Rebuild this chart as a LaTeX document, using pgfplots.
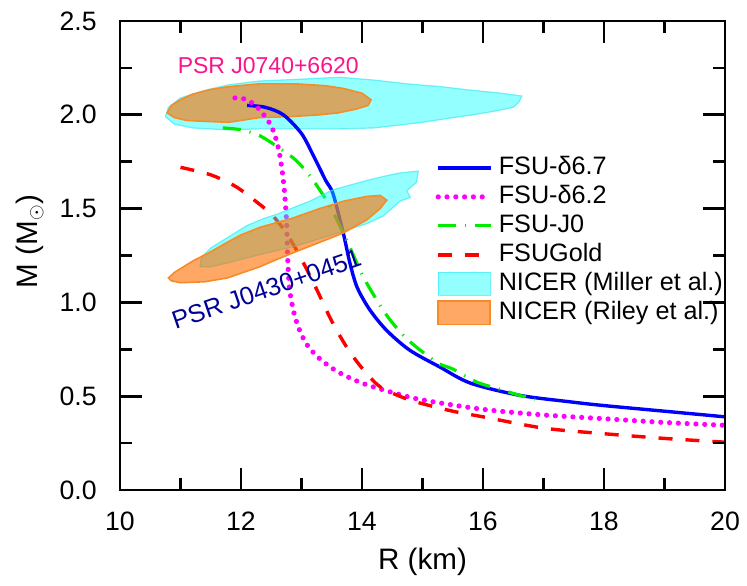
\documentclass[border=0pt]{standalone}
\usepackage{fontspec}
\setmainfont{Liberation Sans}
\usepackage{pgfplots}
\pgfplotsset{compat=1.18}
\definecolor{cyanfill}{RGB}{0,255,255}
\definecolor{cyanedge}{RGB}{60,235,245}
\definecolor{orangefill}{RGB}{255,110,0}
\definecolor{orangeedge}{RGB}{245,140,40}
\definecolor{psrpink}{RGB}{250,20,140}
\definecolor{psrnavy}{RGB}{0,0,150}
\definecolor{lgreen}{RGB}{0,235,0}
\definecolor{lblue}{RGB}{0,0,255}
\definecolor{lmag}{RGB}{255,0,255}
\definecolor{lred}{RGB}{255,0,0}
\definecolor{axblack}{RGB}{2,2,2}
\pgfplotsset{nicerlegend/.style={legend image code/.code={\draw[##1] (0bp,-5.8bp) rectangle (26bp,5.8bp);}}}
\begin{document}
\begin{tikzpicture}
\begin{axis}[
  scale only axis, width=302.5bp, height=234.5bp,
  xmin=10, xmax=20, ymin=0, ymax=2.5,
  xtick={10,12,14,16,18,20}, minor xtick={11,13,15,17,19},
  ytick={0,0.5,1.0,1.5,2.0,2.5}, minor ytick={0.25,0.75,1.25,1.75,2.25},
  tick align=inside, xtick pos=both, ytick pos=both,
  major tick length=11bp, minor tick length=6bp,
  axis line style={axblack, line width=1.4bp},
  tick style={axblack, line width=1.3bp},
  /pgf/number format/assume math mode=true,
  yticklabel style={/pgf/number format/fixed, /pgf/number format/fixed zerofill, /pgf/number format/precision=1, inner sep=0pt, anchor=east, xshift=-11.5bp},
  xticklabel style={inner sep=0pt, anchor=north, yshift=-11bp},
  ticklabel style={font=\fontsize{13.3bp}{16bp}\selectfont},
  xlabel={R (km)}, ylabel={M (M$_\odot$)},
  every axis x label/.style={at={(axis description cs:0.5,-0.1535)}, anchor=center, font=\fontsize{14.8bp}{17bp}\selectfont},
  every axis y label/.style={at={(axis description cs:-0.149,0.53)}, anchor=center, rotate=90, font=\fontsize{14.8bp}{17bp}\selectfont},
  legend style={at={(axis description cs:0.521,0.7186)}, anchor=north west, draw=none, fill=none, inner sep=0pt,
    font=\fontsize{12.6bp}{14bp}\selectfont, cells={anchor=west}, column sep=2bp,
    nodes={inner sep=1bp, text height=9.5bp, text depth=3bp}},
  legend image code/.code={\draw[#1] plot coordinates {(0bp,0bp) (26bp,0bp)};},
]
% upper contours (J0740)
\addplot[forget plot, fill=cyanfill, fill opacity=0.42, draw=cyanedge, draw opacity=0.7, line width=0.6bp] coordinates {
(10.75,1.99) (10.8,2.04) (11.0,2.09) (11.4,2.13) (11.8,2.16) (12.3,2.18) (13.0,2.19) (13.64,2.20) (14.2,2.185) (14.74,2.165) (15.3,2.15) (15.83,2.13) (16.3,2.115) (16.64,2.10) (16.6,2.07) (16.5,2.04) (16.2,2.02) (15.83,2.0) (15.4,1.98) (15.0,1.96) (14.6,1.945) (14.2,1.93) (13.64,1.925) (13.0,1.925) (12.3,1.925) (11.77,1.92) (11.2,1.93) (10.9,1.95)
} -- cycle;
\addplot[forget plot, fill=orangefill, fill opacity=0.6, draw=orangeedge, line width=0.8bp] coordinates {
(10.78,2.01) (10.85,2.05) (11.0,2.08) (11.2,2.11) (11.5,2.135) (11.8,2.15) (12.3,2.165) (12.9,2.165) (13.4,2.155) (13.7,2.14) (14.0,2.115) (14.15,2.08) (14.1,2.05) (13.9,2.03) (13.6,2.01) (13.3,2.0) (12.8,1.99) (12.3,1.985) (11.8,1.96) (11.4,1.965) (11.1,1.97) (10.9,1.985)
} -- cycle;
% curves
\addplot[lblue, line width=1.7bp, smooth] coordinates {
(12.1,2.05) (12.4,2.04) (12.7,2.00) (13.0,1.90) (13.2,1.78) (13.4,1.65) (13.52,1.58) (13.69,1.37) (13.8,1.21) (13.92,1.08) (14.13,0.96) (14.41,0.85) (14.79,0.745) (15.29,0.655) (15.79,0.57) (16.6,0.505) (17.44,0.47) (18.0,0.45) (19.0,0.42) (20.0,0.39)
};
\addlegendentry{FSU-δ6.7}
\addplot[lmag, line width=2.6bp, line cap=round, dash pattern=on 0bp off 4.4bp, smooth] coordinates {
(11.9,2.09) (12.1,2.08) (12.3,2.03) (12.5,1.94) (12.62,1.82) (12.7,1.65) (12.75,1.45) (12.77,1.25) (12.8,1.08) (12.87,0.95) (12.97,0.85) (13.1,0.77) (13.3,0.70) (13.6,0.63) (14.0,0.57) (14.5,0.52) (15.0,0.48) (16.0,0.43) (17.0,0.40) (18.0,0.38) (19.0,0.36) (20.0,0.345)
};
\addlegendentry{FSU-δ6.2}
\addplot[lgreen, line width=1.6bp, dash pattern=on 9bp off 4.5bp on 0.6bp off 4.5bp, smooth] coordinates {
(11.7,1.93) (12.0,1.92) (12.3,1.89) (12.6,1.83) (12.9,1.76) (13.15,1.67) (13.3,1.60) (13.44,1.53) (13.6,1.43) (13.75,1.33) (13.97,1.17) (14.1,1.09) (14.41,0.93) (14.76,0.80) (15.24,0.68) (15.5,0.645) (15.9,0.575) (16.3,0.535) (16.6,0.505) (16.86,0.485)
};
\addlegendentry{FSU-J0}
\addplot[lred, line width=1.7bp, dash pattern=on 7bp off 6.5bp, smooth] coordinates {
(11.0,1.72) (11.5,1.68) (11.9,1.62) (12.2,1.55) (12.5,1.47) (12.75,1.37) (13.0,1.23) (13.25,1.07) (13.5,0.90) (13.75,0.76) (14.0,0.65) (14.3,0.55) (14.7,0.49) (15.0,0.46) (15.5,0.42) (16.0,0.39) (17.0,0.33) (18.0,0.30) (19.0,0.275) (20.0,0.255)
};
\addlegendentry{FSUGold}
% lower contours (J0030)
\addplot[fill=cyanfill, fill opacity=0.42, draw=cyanedge, draw opacity=0.7, line width=0.6bp, nicerlegend] coordinates {
(11.32,1.19) (11.35,1.24) (11.5,1.29) (11.8,1.35) (12.1,1.41) (12.4,1.45) (12.6,1.47) (12.9,1.51) (13.14,1.54) (13.52,1.60) (14.08,1.65) (14.4,1.675) (14.63,1.69) (14.93,1.70) (14.9,1.64) (14.74,1.595) (14.8,1.56) (14.63,1.54) (14.35,1.46) (14.08,1.42) (13.7,1.38) (13.3,1.34) (12.9,1.30) (12.31,1.255) (11.77,1.21) (11.5,1.19)
} -- cycle;
\addlegendentry{NICER (Miller et al.)}
\addplot[fill=orangefill, fill opacity=0.6, draw=orangeedge, line width=0.8bp, nicerlegend] coordinates {
(10.8,1.13) (10.9,1.16) (11.2,1.22) (11.5,1.27) (11.77,1.32) (12.0,1.36) (12.31,1.40) (12.86,1.45) (13.3,1.50) (13.7,1.54) (14.08,1.565) (14.3,1.57) (14.41,1.545) (14.3,1.50) (14.08,1.44) (13.69,1.37) (13.3,1.32) (12.98,1.28) (12.6,1.23) (12.31,1.19) (11.77,1.13) (11.4,1.11) (11.0,1.105) (10.85,1.115)
} -- cycle;
\addlegendentry{NICER (Riley et al.)}
\node[text=psrpink, font=\fontsize{11.5bp}{13bp}\selectfont] at (axis cs:12.45,2.265) {PSR J0740+6620};
\node[text=psrnavy, rotate=19, font=\fontsize{12.6bp}{14bp}\selectfont] at (axis cs:12.42,1.07) {PSR J0430+0451};
\end{axis}
\begin{scope}[draw opacity=1, fill opacity=1, opacity=1]
\foreach \i in {0,...,5} {
  \draw[axblack, line width=1.3bp] ({\i*60.5bp},0) -- ++(0,11bp);
  \draw[axblack, line width=1.3bp] ({\i*60.5bp},234.5bp) -- ++(0,-11bp);
  \draw[axblack, line width=1.3bp] (0,{\i*46.9bp}) -- ++(11bp,0);
  \draw[axblack, line width=1.3bp] (302.5bp,{\i*46.9bp}) -- ++(-11bp,0);
}
\foreach \i in {0,...,4} {
  \draw[axblack, line width=1.3bp] ({30.25bp+\i*60.5bp},0) -- ++(0,6bp);
  \draw[axblack, line width=1.3bp] ({30.25bp+\i*60.5bp},234.5bp) -- ++(0,-6bp);
  \draw[axblack, line width=1.3bp] (0,{23.45bp+\i*46.9bp}) -- ++(6bp,0);
  \draw[axblack, line width=1.3bp] (302.5bp,{23.45bp+\i*46.9bp}) -- ++(-6bp,0);
}
\draw[axblack, line width=1.4bp] (0,0) rectangle (302.5bp,234.5bp);
\end{scope}
\pgfresetboundingbox
\useasboundingbox (-60bp,-48bp) rectangle (313.5bp,245bp);
\end{tikzpicture}
\end{document}
